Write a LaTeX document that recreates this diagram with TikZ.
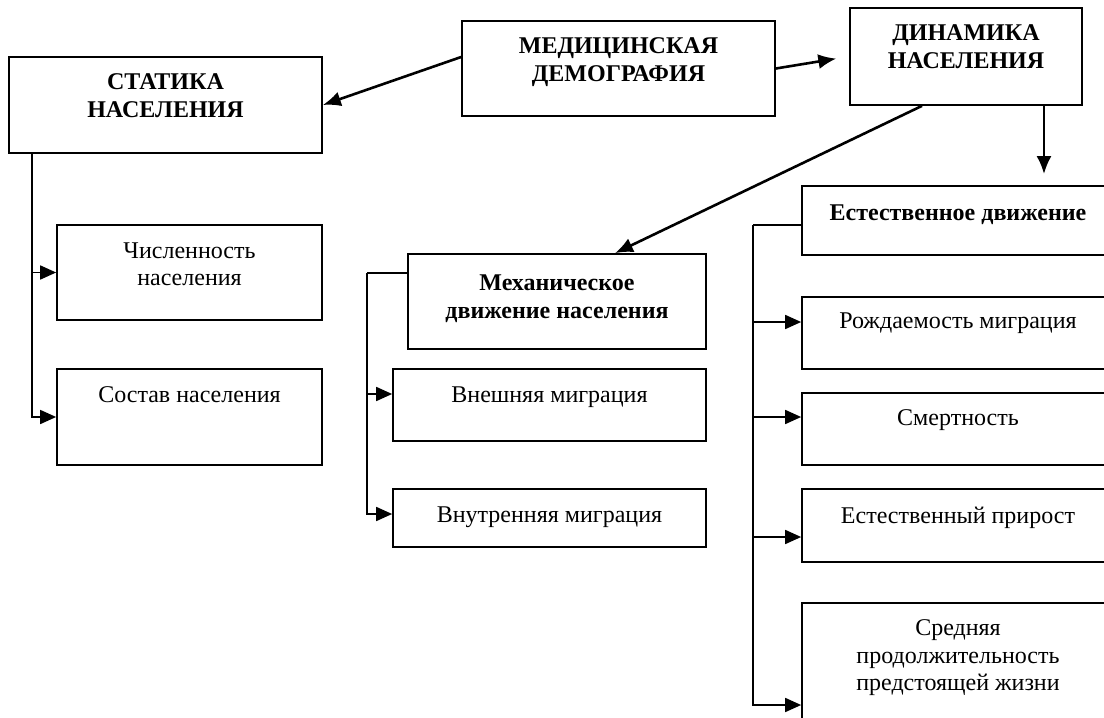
\documentclass[tikz,border=0pt]{standalone}
\usepackage{fontspec}
\setmainfont{Liberation Serif}
\usetikzlibrary{arrows.meta,positioning,calc}

\begin{document}
\begin{tikzpicture}[
  x=0.5pt, y=-0.5pt,
  font=\fontsize{12}{13.8}\selectfont,
  box/.style={draw, line width=0.85pt, inner sep=0pt},
  headtext/.style={align=center, inner sep=0pt, anchor=north,
                   font=\fontsize{12}{14}\selectfont\bfseries},
  bodytext/.style={align=center, inner sep=0pt, anchor=north},
  arr/.style={-{Latex[length=9pt,width=7.5pt]}, line width=1.3pt},
  branch/.style={-{Triangle[length=8pt,width=7pt]}, line width=0.85pt},
  bus/.style={line width=0.85pt}
]
\clip (0,0) rectangle (1104,718);

% top row
\node[box, minimum width=156.5pt, minimum height=48pt] (stat) at (165.5,105) {};
\node[box, minimum width=156.5pt, minimum height=47.5pt] (med) at (618.5,68.5) {};
\node[box, minimum width=116pt, minimum height=48.5pt] (dyn) at (966,56.5) {};

\node[headtext] (stat-t) at ([yshift=-8.75pt]stat.north) {СТАТИКА\\НАСЕЛЕНИЯ};
\node[headtext] (med-t) at ([yshift=-8.75pt]med.north) {МЕДИЦИНСКАЯ\\ДЕМОГРАФИЯ};
\node[headtext] (dyn-t) at ([yshift=-8.75pt]dyn.north) {ДИНАМИКА\\НАСЕЛЕНИЯ};

% statics
\node[box, minimum width=132.5pt, minimum height=47.5pt] (chis) at (189.5,272.5) {};
\node[box, minimum width=132.5pt, minimum height=48pt] (sost) at (189.5,417) {};
\node[bodytext] (chis-t) at ([yshift=-9pt]chis.north) {Численность\\населения};
\node[bodytext] (sost-t) at ([yshift=-9pt]sost.north) {Состав населения};

% mechanical movement
\node[box, minimum width=149pt, minimum height=47.5pt] (mech) at (557,301.5) {};
\node[box, minimum width=156.5pt, minimum height=36pt] (vnesh) at (549.5,405) {};
\node[box, minimum width=156.5pt, minimum height=29pt] (vnutr) at (549.5,518) {};
\node[headtext] (mech-t) at ([yshift=-10.5pt]mech.north) {Механическое\\движение населения};
\node[bodytext] (vnesh-t) at ([yshift=-9pt]vnesh.north) {Внешняя миграция};
\node[bodytext] (vnutr-t) at ([yshift=-9pt]vnutr.north) {Внутренняя миграция};

% natural movement
\node[box, minimum width=156pt, minimum height=34.5pt] (est) at (958,220.5) {};
\node[box, minimum width=156pt, minimum height=36pt] (rozhd) at (958,333) {};
\node[box, minimum width=156pt, minimum height=36pt] (smert) at (958,429) {};
\node[box, minimum width=156pt, minimum height=36.5pt] (prir) at (958,525.5) {};
\node[box, minimum width=156pt, minimum height=78.5pt] (sred) at (958,681.5) {};
\node[headtext] (est-t) at ([yshift=-9.5pt]est.north) {Естественное движение};
\node[bodytext] (rozhd-t) at ([yshift=-8pt]rozhd.north) {Рождаемость миграция};
\node[bodytext] (smert-t) at ([yshift=-8.5pt]smert.north) {Смертность};
\node[bodytext] (prir-t) at ([yshift=-9.5pt]prir.north) {Естественный прирост};
\node[bodytext] (sred-t) at ([yshift=-8.5pt]sred.north) {Средняя\\продолжительность\\предстоящей жизни};

% main arrows
\draw[arr] ([yshift=5.75pt]med.west) -- (stat.east);
\draw[arr, shorten >=6.5pt] (med.east) -- (dyn.west);
\draw[arr] ([xshift=-22pt]dyn.south) -- ([xshift=29pt]mech.north);
\draw[arr, shorten >=5.5pt] ([xshift=39pt]dyn.south) -- ([xshift=39pt]dyn.south |- est.north);

% branches
\coordinate (statbus) at ([xshift=12pt]stat.south west);
\draw[branch] (statbus) |- (chis.west);
\draw[branch] (statbus) |- (sost.west);

\coordinate (mechbus) at ([xshift=-20pt,yshift=14.25pt]mech.west);
\draw[bus] ([yshift=14.25pt]mech.west) -- (mechbus);
\draw[branch] (mechbus) |- ([yshift=5.5pt]vnesh.west);
\draw[branch] (mechbus) |- ([yshift=2pt]vnutr.west);

\coordinate (estbus) at ([xshift=-24pt,yshift=-2.25pt]est.west);
\draw[bus] ([yshift=-2.25pt]est.west) -- (estbus);
\draw[branch] (estbus) |- ([yshift=5.5pt]rozhd.west);
\draw[branch] (estbus) |- ([yshift=6pt]smert.west);
\draw[branch] (estbus) |- ([yshift=-5.75pt]prir.west);
\draw[branch] (estbus) |- ([yshift=-11.75pt]sred.west);

\end{tikzpicture}
\end{document}
